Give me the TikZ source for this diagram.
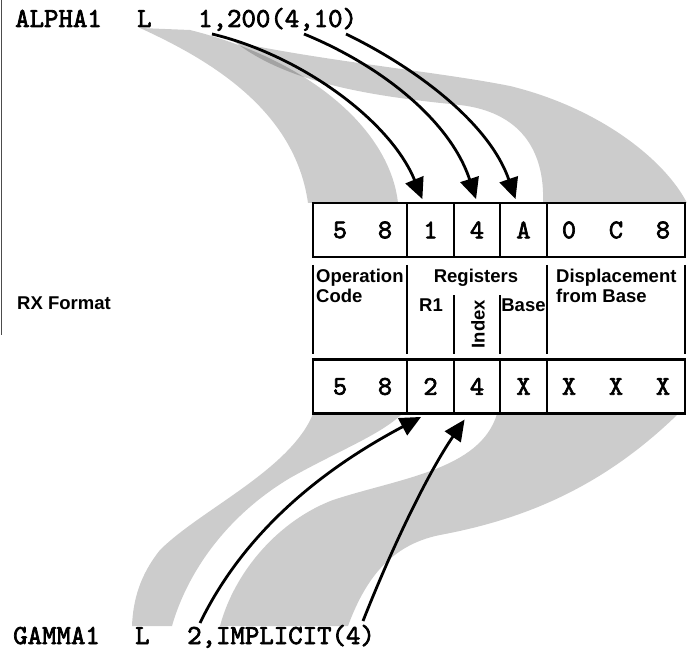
\documentclass[tikz,border=0pt]{standalone}
\usepackage{fontspec}
\setmainfont{Liberation Sans}
\newfontfamily\codefont[FakeBold=2.5]{lmmono10-regular.otf}
\usetikzlibrary{arrows.meta}
\tikzset{
  band/.style={fill=black, fill opacity=0.2},
  arr/.style={line width=2.8pt, -{Triangle[length=21pt,width=19pt]}},
  cell/.style={draw, line width=2.2pt, inner sep=0pt, minimum height=54pt},
  dig/.style={font=\codefont\fontsize{27}{27}\selectfont, inner sep=0pt},
  code/.style={font=\codefont\fontsize{27.5}{27.5}\selectfont, anchor=base west, inner sep=0pt},
  lbl/.style={font=\bfseries\fontsize{18.5}{20}\selectfont, inner sep=0pt},
  rule/.style={line width=1.1pt}
}
\begin{document}
\begin{tikzpicture}[x=1pt,y=-1pt]
\useasboundingbox (0,0) rectangle (689,650);
% scan edge
\draw[black!70, line width=1.4pt] (1.5,0) -- (1.5,335);
% shaded bands
\fill[band] (140,28) .. controls (210,60) and (295,110) .. (308,203) -- (398,203)
  .. controls (390,130) and (310,60) .. (190,30) -- cycle;
\fill[band] (235,42) .. controls (330,62) and (440,72) .. (510,86)
  .. controls (600,108) and (665,160) .. (687,203) -- (543,203)
  .. controls (545,150) and (520,112) .. (460,105)
  .. controls (380,97) and (290,85) .. (235,42) -- cycle;
\fill[band] (313,414) .. controls (290,470) and (200,510) .. (160,550)
  .. controls (140,575) and (133,600) .. (132,626) -- (172,626)
  .. controls (185,580) and (220,520) .. (290,478)
  .. controls (340,450) and (380,435) .. (402,414) -- cycle;
\fill[band] (497,414) .. controls (480,470) and (400,478) .. (333,500)
  .. controls (280,520) and (235,570) .. (220,626) -- (348,626)
  .. controls (365,580) and (390,545) .. (440,535)
  .. controls (520,520) and (600,490) .. (678,414) -- cycle;

% source text
\node[code] (alpha) at (15,27) {ALPHA1};
\node[code] (lA) at (137,27) {L};
\node[code] (opA) at (198,27) {1,200(4,10)};
\node[code] (gamma) at (13,644) {GAMMA1};
\node[code] (lG) at (135,644) {L};
\node[code] (opG) at (187,644) {2,IMPLICIT(4)};

% top row cells
\node[cell, minimum width=94pt] (tOp) at (360,230) {};
\node[cell, minimum width=47pt] (tR1) at (430.5,230) {};
\node[cell, minimum width=46pt] (tIx) at (477,230) {};
\node[cell, minimum width=47pt] (tBs) at (523.5,230) {};
\node[cell, minimum width=138pt] (tDp) at (616,230) {};
\node[dig] (t1) at (340,230) {5};
\node[dig] (t2) at (385,230) {8};
\node[dig] (t3) at (tR1) {1};
\node[dig] (t4) at (tIx) {4};
\node[dig] (t5) at (tBs) {A};
\node[dig] (t6) at (569,230) {0};
\node[dig] (t7) at (616,230) {C};
\node[dig] (t8) at (663,230) {8};

% bottom row cells
\node[cell, minimum width=94pt] (bOp) at (360,386.5) {};
\node[cell, minimum width=47pt] (bR1) at (430.5,386.5) {};
\node[cell, minimum width=46pt] (bIx) at (477,386.5) {};
\node[cell, minimum width=47pt] (bBs) at (523.5,386.5) {};
\node[cell, minimum width=138pt] (bDp) at (616,386.5) {};
\node[dig] (u1) at (340,386.5) {5};
\node[dig] (u2) at (385,386.5) {8};
\node[dig] (u3) at (bR1) {2};
\node[dig] (u4) at (bIx) {4};
\node[dig] (u5) at (bBs) {X};
\node[dig] (u6) at (569,386.5) {X};
\node[dig] (u7) at (616,386.5) {X};
\node[dig] (u8) at (663,386.5) {X};

% label band
\draw[rule] (313,265) -- (313,354);
\draw[rule] (407,265) -- (407,354);
\draw[rule] (547,265) -- (547,354);
\draw[rule] (685,265) -- (685,354);
\draw[rule] (454,295) -- (454,354);
\draw[rule] (500,295) -- (500,354);
\node[lbl, anchor=base west] (opl1) at (316,283) {Operation};
\node[lbl, anchor=base west] (opl2) at (316,302) {Code};
\node[lbl, anchor=base] (reg) at (476,283) {Registers};
\node[lbl, anchor=base] (r1l) at (431,311) {R1};
\node[lbl, rotate=90] (ixl) at (478,324) {Index};
\node[lbl, anchor=base] (bsl) at (523.5,311) {Base};
\node[lbl, anchor=base west] (dpl1) at (556,283) {Displacement};
\node[lbl, anchor=base west] (dpl2) at (556,302) {from Base};
\node[lbl, anchor=base west] (rx) at (17,309) {RX Format};

% arrows
\coordinate (s1) at (212,34);
\coordinate (s2) at (304,34);
\coordinate (s3) at (346,34);
\coordinate (e1) at (200,623);
\coordinate (e2) at (363,621);
\draw[arr, shorten >=3pt] (s1) .. controls (300,55) and (390,120) .. ([xshift=-7pt]tR1.north);
\draw[arr, shorten >=3pt] (s2) .. controls (380,65) and (450,120) .. (tIx.north);
\draw[arr, shorten >=3pt] (s3) .. controls (420,70) and (490,125) .. ([xshift=-7pt]tBs.north);
\draw[arr, shorten >=5pt] (e1) .. controls (250,520) and (340,460) .. ([xshift=-5pt]bR1.south);
\draw[arr, shorten >=6pt] (e2) .. controls (395,540) and (430,470) .. ([xshift=-9pt]bIx.south);
\end{tikzpicture}
\end{document}
